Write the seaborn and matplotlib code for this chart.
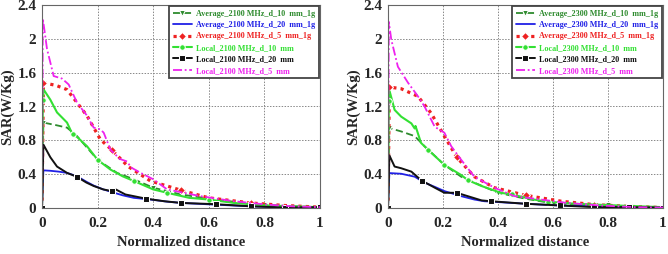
import matplotlib
matplotlib.use("Agg")
import matplotlib.pyplot as plt
import seaborn as sns
import numpy as np

sns.set_theme(style="white")
plt.rcParams['font.family'] = ['Liberation Serif', 'DejaVu Serif']
plt.rcParams['font.weight'] = 'bold'

# ---------------- data: 2100 MHz ----------------
a10_2100_x = [0, 0.005, 0.05, 0.09, 0.126, 0.2, 0.27, 0.33, 0.4, 0.5, 0.6, 0.7, 0.8, 0.9, 1.0]
a10_2100_y = [0, 1.01, 0.98, 0.95, 0.85, 0.57, 0.415, 0.34, 0.24, 0.16, 0.11, 0.07, 0.04, 0.02, 0.01]
a10_2100_m = [1, 5, 8, 10, 12, 14]

a20_2100_x = [0, 0.005, 0.03, 0.06, 0.09, 0.126, 0.16, 0.186, 0.22, 0.25, 0.29, 0.33, 0.39, 0.45, 0.5, 0.62, 0.75, 0.87, 1.0]
a20_2100_y = [0, 0.445, 0.44, 0.43, 0.415, 0.375, 0.31, 0.265, 0.22, 0.19, 0.15, 0.12, 0.1, 0.075, 0.06, 0.04, 0.02, 0.01, 0.005]

a5_2100_x = [0, 0.005, 0.05, 0.09, 0.126, 0.162, 0.21, 0.25, 0.31, 0.39, 0.5, 0.6, 0.75, 0.87, 1.0]
a5_2100_y = [0, 1.48, 1.45, 1.40, 1.245, 1.09, 0.81, 0.69, 0.49, 0.32, 0.21, 0.12, 0.06, 0.03, 0.01]
a5_2100_m = [1, 7, 10, 12, 14]

l10_2100_x = [0, 0.003, 0.006, 0.03, 0.054, 0.09, 0.11, 0.126, 0.162, 0.2, 0.246, 0.29, 0.33, 0.4, 0.45, 0.53, 0.6, 0.69, 0.81, 0.9, 1.0]
l10_2100_y = [0, 1.28, 1.40, 1.28, 1.13, 1.01, 0.87, 0.84, 0.73, 0.57, 0.455, 0.375, 0.32, 0.22, 0.18, 0.12, 0.1, 0.06, 0.03, 0.02, 0.01]
l10_2100_m = [1, 6, 9, 12, 14, 16, 20]

l20_2100_x = [0, 0.005, 0.03, 0.054, 0.09, 0.125, 0.16, 0.186, 0.22, 0.25, 0.265, 0.3, 0.375, 0.44, 0.5, 0.625, 0.75, 0.875, 1.0]
l20_2100_y = [0, 0.75, 0.6, 0.49, 0.415, 0.37, 0.3, 0.26, 0.22, 0.2, 0.22, 0.16, 0.11, 0.08, 0.06, 0.045, 0.02, 0.005, 0.01]
l20_2100_m = [0, 5, 9, 12, 14, 15, 16, 17, 18]

l5_2100_x = [0, 0.003, 0.018, 0.042, 0.072, 0.096, 0.126, 0.16, 0.186, 0.21, 0.222, 0.246, 0.28, 0.306, 0.32, 0.355, 0.4, 0.45, 0.57, 0.69, 0.81, 0.9, 1.0]
l5_2100_y = [0, 2.24, 1.88, 1.56, 1.53, 1.46, 1.245, 1.1, 0.95, 0.93, 0.89, 0.69, 0.58, 0.55, 0.48, 0.415, 0.34, 0.22, 0.14, 0.08, 0.04, 0.02, 0.01]

# ---------------- data: 2300 MHz ----------------
a10_2300_x = [0, 0.005, 0.048, 0.097, 0.133, 0.205, 0.266, 0.314, 0.4, 0.5, 0.59, 0.7, 0.8, 0.9, 1.0]
a10_2300_y = [0, 0.945, 0.905, 0.85, 0.73, 0.51, 0.37, 0.3, 0.18, 0.11, 0.06, 0.04, 0.03, 0.015, 0.005]
a10_2300_m = [1, 5, 8, 10, 12, 14]

a20_2300_x = [0, 0.005, 0.048, 0.097, 0.133, 0.17, 0.205, 0.266, 0.314, 0.35, 0.5, 0.62, 0.75, 0.87, 1.0]
a20_2300_y = [0, 0.413, 0.405, 0.37, 0.3, 0.25, 0.2, 0.14, 0.1, 0.08, 0.05, 0.03, 0.02, 0.01, 0.005]

a5_2300_x = [0, 0.005, 0.048, 0.109, 0.157, 0.205, 0.25, 0.314, 0.387, 0.5, 0.63, 0.75, 0.87, 1.0]
a5_2300_y = [0, 1.43, 1.41, 1.32, 1.12, 0.85, 0.6, 0.37, 0.24, 0.15, 0.08, 0.04, 0.02, 0.005]
a5_2300_m = [1, 6, 9, 11, 13]

l10_2300_x = [0, 0.003, 0.006, 0.024, 0.048, 0.085, 0.097, 0.1, 0.12, 0.145, 0.205, 0.266, 0.29, 0.34, 0.41, 0.45, 0.53, 0.58, 0.68, 0.83, 1.0]
l10_2300_y = [0, 1.26, 1.38, 1.16, 1.08, 1.0, 0.94, 0.97, 0.77, 0.69, 0.51, 0.39, 0.33, 0.26, 0.18, 0.16, 0.1, 0.075, 0.05, 0.03, 0.01]
l10_2300_m = [1, 9, 10, 12, 15, 17, 20]

l20_2300_x = [0, 0.005, 0.024, 0.048, 0.085, 0.12, 0.125, 0.17, 0.205, 0.25, 0.29, 0.34, 0.375, 0.5, 0.625, 0.75, 0.875, 1.0]
l20_2300_y = [0, 0.622, 0.49, 0.47, 0.43, 0.33, 0.32, 0.24, 0.18, 0.18, 0.14, 0.09, 0.08, 0.05, 0.03, 0.01, 0.01, 0.005]
l20_2300_m = [0, 6, 9, 12, 13, 14, 15, 16, 17]

l5_2300_x = [0, 0.003, 0.012, 0.036, 0.073, 0.109, 0.133, 0.17, 0.205, 0.23, 0.266, 0.314, 0.387, 0.46, 0.556, 0.65, 0.77, 0.9, 1.0]
l5_2300_y = [0, 2.2, 1.99, 1.67, 1.48, 1.32, 1.2, 0.96, 0.89, 0.73, 0.57, 0.37, 0.24, 0.14, 0.1, 0.06, 0.03, 0.01, 0.005]

x_ticks = [0, 0.2, 0.4, 0.6, 0.8, 1]
x_ticklabels = ["0", "0.2", "0.4", "0.6", "0.8", "1"]
y_ticks = [0, 0.4, 0.8, 1.2, 1.6, 2, 2.4]
y_ticklabels = ["0", "0.4", "0.8", "1.2", "1.6", "2", "2.4"]

C_A10 = "#2e8b2e"
C_A20 = "#2020e6"
C_A5 = "#ee2222"
C_L10 = "#33e033"
C_L20 = "#111111"
C_L5 = "#ee22ee"

fig = plt.figure(figsize=(6.68, 2.54), dpi=100)
ax1 = fig.add_axes([42 / 668, 46 / 254, 278 / 668, 203 / 254])
ax2 = fig.add_axes([388 / 668, 46 / 254, 275 / 668, 203 / 254])


def draw(ax, freq, s):
    (a10x, a10y, a10m, a20x, a20y, a5x, a5y, a5m,
     l10x, l10y, l10m, l20x, l20y, l20m, l5x, l5y) = s
    sns.lineplot(x=a10x, y=a10y, ax=ax, color=C_A10, linestyle=(0, (4, 2)), lw=1.3,
                 marker='v', markersize=4, markevery=a10m, sort=False, estimator=None,
                 label=f"Average_{freq} MHz_d_10  mm_1g")
    sns.lineplot(x=a20x, y=a20y, ax=ax, color=C_A20, linestyle='-', lw=1.3,
                 sort=False, estimator=None,
                 label=f"Average_{freq} MHz_d_20  mm_1g")
    sns.lineplot(x=a5x, y=a5y, ax=ax, color=C_A5, linestyle=(0, (1, 1.3)), lw=2.3,
                 marker='D', markersize=4, markevery=a5m, sort=False, estimator=None,
                 label=f"Average_{freq} MHz_d_5  mm_1g")
    sns.lineplot(x=l10x, y=l10y, ax=ax, color=C_L10, linestyle='-', lw=1.5,
                 marker='o', markersize=4, markevery=l10m, sort=False, estimator=None,
                 label=f"Local_{freq} MHz_d_10  mm")
    sns.lineplot(x=l20x, y=l20y, ax=ax, color=C_L20, linestyle='-', lw=1.4,
                 marker='s', markersize=4, markevery=l20m, sort=False, estimator=None,
                 label=f"Local_{freq} MHz_d_20  mm")
    sns.lineplot(x=l5x, y=l5y, ax=ax, color=C_L5, linestyle=(0, (5, 1.5, 1, 1.5)), lw=1.3,
                 sort=False, estimator=None,
                 label=f"Local_{freq} MHz_d_5  mm")

    ax.set_xlim(0, 1)
    ax.set_ylim(0, 2.4)
    ax.set_xticks(x_ticks)
    ax.set_xticklabels(x_ticklabels)
    ax.set_yticks(y_ticks)
    ax.set_yticklabels(y_ticklabels)
    ax.grid(True, color="#888888", linestyle=(0, (1.5, 1.5)), lw=0.7)
    for sp in ax.spines.values():
        sp.set_color("#666666")
        sp.set_linewidth(0.8)
    ax.tick_params(axis='x', length=0, pad=6.5, labelsize=11)
    ax.tick_params(axis='y', length=0, pad=4.0, labelsize=11)
    for lab in ax.get_xticklabels() + ax.get_yticklabels():
        lab.set_fontweight('bold')
    ax.set_xlabel("Normalized distance", fontsize=10.5, fontweight='bold', labelpad=4)
    ax.set_ylabel("SAR(W/Kg)", fontsize=10.5, fontweight='bold', labelpad=2)

    leg = ax.legend(loc='upper right', frameon=True, fancybox=False,
                    framealpha=1, edgecolor="#444444", borderaxespad=0.15,
                    handlelength=2.4, handletextpad=0.5, labelspacing=0.42,
                    borderpad=0.4,
                    labelcolor=[C_A10, C_A20, C_A5, C_L10, C_L20, C_L5],
                    prop={'family': 'Liberation Serif', 'weight': 'bold', 'size': 5.9})
    leg.get_frame().set_linewidth(1.3)


draw(ax1, "2100", (a10_2100_x, a10_2100_y, a10_2100_m, a20_2100_x, a20_2100_y,
                   a5_2100_x, a5_2100_y, a5_2100_m, l10_2100_x, l10_2100_y, l10_2100_m,
                   l20_2100_x, l20_2100_y, l20_2100_m, l5_2100_x, l5_2100_y))
draw(ax2, "2300", (a10_2300_x, a10_2300_y, a10_2300_m, a20_2300_x, a20_2300_y,
                   a5_2300_x, a5_2300_y, a5_2300_m, l10_2300_x, l10_2300_y, l10_2300_m,
                   l20_2300_x, l20_2300_y, l20_2300_m, l5_2300_x, l5_2300_y))

fig.savefig("out.png", dpi=100)
